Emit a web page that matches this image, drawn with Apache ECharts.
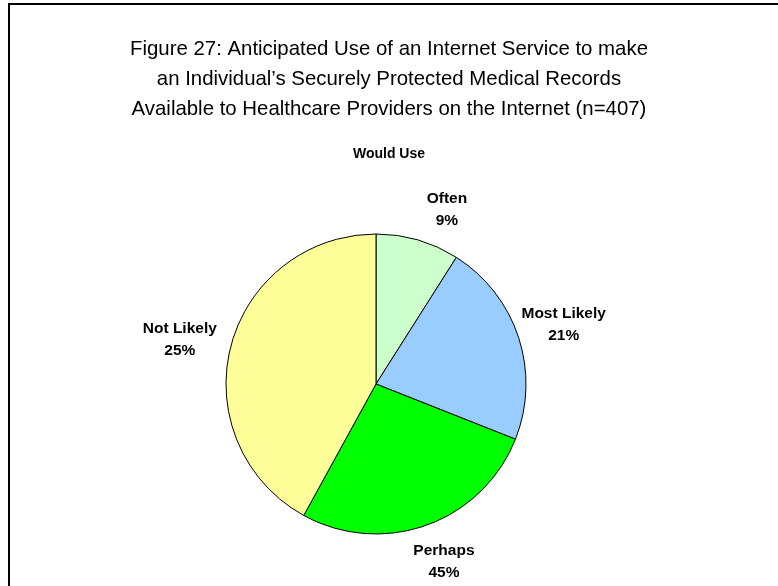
<!DOCTYPE html>
<html>
<head>
<meta charset="utf-8">
<script src="https://cdn.jsdelivr.net/npm/echarts@6/dist/echarts.min.js"></script>
<style>
html,body{margin:0;padding:0;background:#fff;}
#chart{position:absolute;left:0;top:0;width:778px;height:586px;}
#frame{position:absolute;left:8px;top:3px;width:780px;height:600px;border-top:2px solid #000;border-left:2px solid #000;pointer-events:none;}
</style>
</head>
<body>
<div id="chart"></div>
<div id="frame"></div>
<script>
// Data
const titleText = "Figure 27: Anticipated Use of an Internet Service to make\nan Individual\u2019s Securely Protected Medical Records\nAvailable to Healthcare Providers on the Internet (n=407)";
const subTitle = "Would Use";
const categories = ["Often", "Most Likely", "Perhaps", "Not Likely"];
// slice sizes as drawn (measured from the angles of the wedges)
const sliceValues = [9, 22, 27, 42];
// percentages printed on the labels
const labelPercents = [9, 21, 45, 25];
const colors = ["#CCFFCC", "#99CCFF", "#00FF00", "#FFFF99"];

// small label nudges (layout only), Excel-style placement
const labelNudge = [[15, 18], [-3, 3], [0, -11], [-2, 6]];

const chart = echarts.init(document.getElementById('chart'), null, {renderer: 'canvas'});
const pieData = categories.map((c, i) => ({name: c, value: sliceValues[i], itemStyle: {color: colors[i]}}));
const labelData = categories.map((c, i) => ({name: c, value: sliceValues[i], label: {offset: labelNudge[i]}}));

chart.setOption({
  backgroundColor: '#ffffff',
  animation: false,
  title: [
    {
      text: titleText,
      left: 'center',
      top: 29,
      textStyle: {fontFamily: 'Liberation Sans, Arial', fontSize: 20.4, fontWeight: 'normal', color: '#000', lineHeight: 30}
    },
    {
      text: subTitle,
      left: 'center',
      top: 142,
      textStyle: {fontFamily: 'Liberation Sans, Arial', fontSize: 14, fontWeight: 'bold', color: '#000'}
    }
  ],
  series: [
    {
      type: 'pie',
      center: [376, 384],
      radius: 150,
      startAngle: 90,
      clockwise: true,
      silent: true,
      data: pieData,
      itemStyle: {borderColor: '#000', borderWidth: 1},
      label: {show: false},
      labelLine: {show: false}
    },
    {
      type: 'pie',
      center: [376, 384],
      radius: [150, 245],
      startAngle: 90,
      clockwise: true,
      silent: true,
      data: labelData,
      itemStyle: {color: 'rgba(0,0,0,0)', borderWidth: 0},
      label: {
        show: true,
        position: 'inside',
        formatter: p => p.name + '\n' + labelPercents[p.dataIndex] + '%',
        fontFamily: 'Liberation Sans, Arial',
        fontSize: 15.5,
        fontWeight: 'bold',
        color: '#000',
        lineHeight: 22,
        align: 'center'
      },
      labelLine: {show: false}
    }
  ]
});
</script>
</body>
</html>
